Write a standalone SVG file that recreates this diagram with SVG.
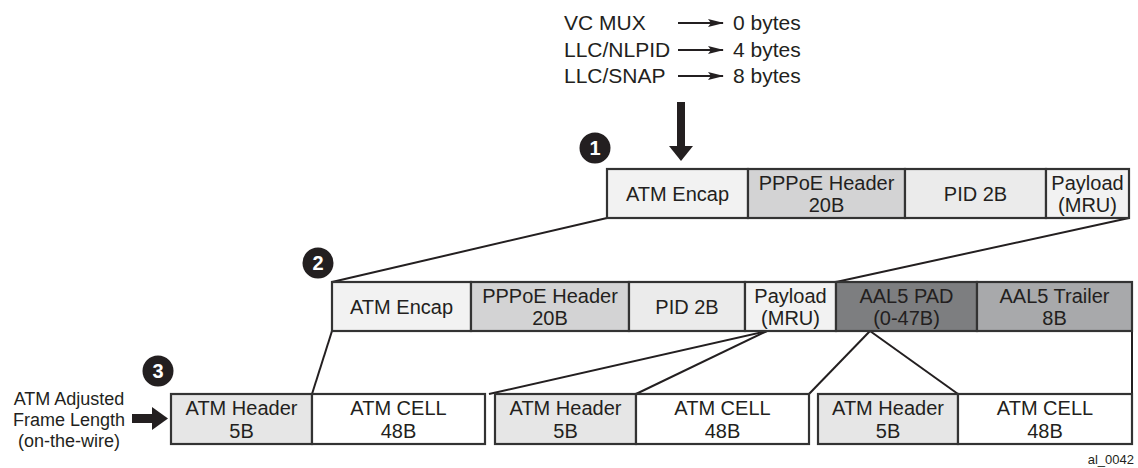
<svg xmlns="http://www.w3.org/2000/svg" width="1138" height="468" viewBox="0 0 1138 468">
<style>
  text { font-family: "Liberation Sans", Arial, sans-serif; fill: #231f20; }
  .t { font-size: 20px; text-anchor: middle; }
  .lbl { font-size: 21px; }
  .side { font-size: 18px; text-anchor: middle; }
  .box { stroke: #333333; stroke-width: 2.2; }
  .c1 { fill: #f2f2f2; }
  .c2 { fill: #d3d3d4; }
  .c3 { fill: #ebebeb; }
  .c4 { fill: #7d7e80; }
  .c5 { fill: #a8a9ab; }
  .c6 { fill: #e6e6e6; }
  .c7 { fill: #ffffff; }
  .conn { stroke: #231f20; stroke-width: 2; fill: none; }
  .badge { fill: #231f20; }
  .num { fill: #ffffff; font-size: 20px; font-weight: bold; text-anchor: middle; }
  .solid { fill: #231f20; }
</style>
<defs>
  <marker id="dart" viewBox="0 0 16 10" refX="15" refY="5" markerWidth="16" markerHeight="10" markerUnits="userSpaceOnUse" orient="auto">
    <path d="M0,1 L16,5 L0,9 L3,5 Z" fill="#231f20"/>
  </marker>
</defs>

<!-- Legend -->
<g id="legend">
  <text class="lbl" x="564" y="30">VC MUX</text>
  <text class="lbl" x="564" y="57">LLC/NLPID</text>
  <text class="lbl" x="564" y="83">LLC/SNAP</text>
  <line class="conn" x1="678" y1="23" x2="723" y2="23" stroke-width="1.6" marker-end="url(#dart)"/>
  <line class="conn" x1="678" y1="50" x2="723" y2="50" stroke-width="1.6" marker-end="url(#dart)"/>
  <line class="conn" x1="678" y1="76" x2="723" y2="76" stroke-width="1.6" marker-end="url(#dart)"/>
  <text class="lbl" x="733" y="30">0 bytes</text>
  <text class="lbl" x="733" y="57">4 bytes</text>
  <text class="lbl" x="733" y="83">8 bytes</text>
</g>

<!-- Connectors -->
<g id="connectors">
  <rect class="solid" x="677" y="102" width="8" height="45"/>
  <polygon class="solid" points="669,146 693,146 681,161"/>
  <rect class="solid" x="132" y="414" width="21" height="9"/>
  <polygon class="solid" points="152,407 152,430 168,418.5"/>
  <line class="conn" x1="607" y1="218" x2="332" y2="282"/>
  <line class="conn" x1="1129" y1="218" x2="836" y2="282"/>
  <line class="conn" x1="332" y1="331" x2="312" y2="394"/>
  <line class="conn" x1="767" y1="331" x2="489" y2="394"/>
  <line class="conn" x1="767" y1="331" x2="636" y2="394"/>
  <line class="conn" x1="870" y1="331" x2="809" y2="394"/>
  <line class="conn" x1="870" y1="331" x2="958" y2="394"/>
  <line class="conn" x1="1132" y1="331" x2="1132" y2="394"/>
</g>

<!-- Badges -->
<g id="badge1"><circle class="badge" cx="595" cy="148" r="15.5"/><text class="num" x="595" y="155">1</text></g>
<g id="badge2"><circle class="badge" cx="318" cy="263" r="15.5"/><text class="num" x="318" y="270">2</text></g>
<g id="badge3"><circle class="badge" cx="158" cy="371" r="15.5"/><text class="num" x="158" y="378">3</text></g>

<!-- Row 1 -->
<g id="r1-encap"><rect class="box c1" x="607" y="169" width="141" height="49"/><text class="t" x="677.5" y="200.5">ATM Encap</text></g>
<g id="r1-pppoe"><rect class="box c2" x="748" y="169" width="157" height="49"/><text class="t"><tspan x="826.5" y="189.5">PPPoE Header</tspan><tspan x="826.5" y="212">20B</tspan></text></g>
<g id="r1-pid"><rect class="box c3" x="905" y="169" width="141" height="49"/><text class="t" x="975.5" y="200.5">PID 2B</text></g>
<g id="r1-payload"><rect class="box c1" x="1046" y="169" width="83" height="49"/><text class="t"><tspan x="1087.5" y="189.5">Payload</tspan><tspan x="1087.5" y="212">(MRU)</tspan></text></g>

<!-- Row 2 -->
<g id="r2-encap"><rect class="box c1" x="332" y="282" width="139" height="49"/><text class="t" x="401.5" y="313.5">ATM Encap</text></g>
<g id="r2-pppoe"><rect class="box c2" x="471" y="282" width="158" height="49"/><text class="t"><tspan x="550" y="302.5">PPPoE Header</tspan><tspan x="550" y="325">20B</tspan></text></g>
<g id="r2-pid"><rect class="box c3" x="629" y="282" width="116" height="49"/><text class="t" x="687" y="313.5">PID 2B</text></g>
<g id="r2-payload"><rect class="box c1" x="745" y="282" width="91" height="49"/><text class="t"><tspan x="790.5" y="302.5">Payload</tspan><tspan x="790.5" y="325">(MRU)</tspan></text></g>
<g id="r2-pad"><rect class="box c4" x="836" y="282" width="141" height="49"/><text class="t"><tspan x="906.5" y="302.5">AAL5 PAD</tspan><tspan x="906.5" y="325">(0-47B)</tspan></text></g>
<g id="r2-trailer"><rect class="box c5" x="977" y="282" width="155" height="49"/><text class="t"><tspan x="1054.5" y="302.5">AAL5 Trailer</tspan><tspan x="1054.5" y="325">8B</tspan></text></g>

<!-- Row 3 -->
<g id="side-label">
  <text class="side"><tspan x="69" y="405">ATM Adjusted</tspan><tspan x="69" y="426">Frame Length</tspan><tspan x="69" y="447">(on-the-wire)</tspan></text>
</g>
<g id="r3-hdr1"><rect class="box c6" x="171" y="394" width="141" height="50"/><text class="t"><tspan x="241.5" y="415">ATM Header</tspan><tspan x="241.5" y="437.5">5B</tspan></text></g>
<g id="r3-cell1"><rect class="box c7" x="312" y="394" width="173" height="50"/><text class="t"><tspan x="398.5" y="415">ATM CELL</tspan><tspan x="398.5" y="437.5">48B</tspan></text></g>
<g id="r3-hdr2"><rect class="box c6" x="495" y="394" width="141" height="50"/><text class="t"><tspan x="565.5" y="415">ATM Header</tspan><tspan x="565.5" y="437.5">5B</tspan></text></g>
<g id="r3-cell2"><rect class="box c7" x="636" y="394" width="173" height="50"/><text class="t"><tspan x="722.5" y="415">ATM CELL</tspan><tspan x="722.5" y="437.5">48B</tspan></text></g>
<g id="r3-hdr3"><rect class="box c6" x="818" y="394" width="140" height="50"/><text class="t"><tspan x="888" y="415">ATM Header</tspan><tspan x="888" y="437.5">5B</tspan></text></g>
<g id="r3-cell3"><rect class="box c7" x="958" y="394" width="174" height="50"/><text class="t"><tspan x="1045" y="415">ATM CELL</tspan><tspan x="1045" y="437.5">48B</tspan></text></g>

<text x="1134" y="464" font-size="13" text-anchor="end">al_0042</text>
</svg>
